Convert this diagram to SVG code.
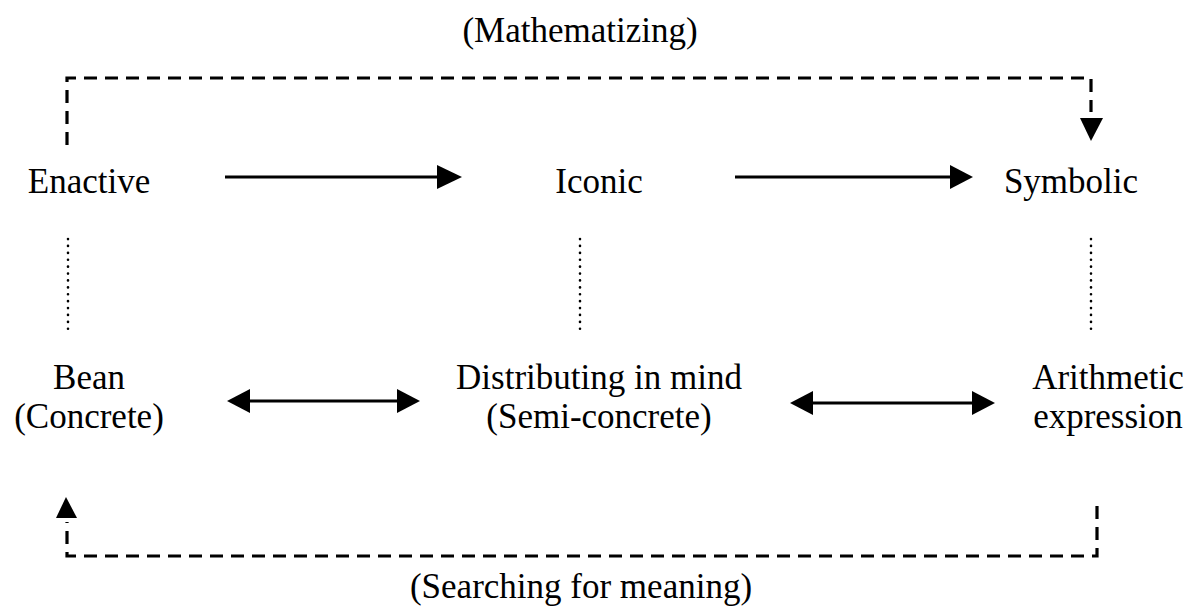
<svg xmlns="http://www.w3.org/2000/svg" width="1192" height="615" viewBox="0 0 1192 615">
<style>
text{font-family:"Liberation Serif","Times New Roman",serif;font-size:35px;fill:#000;text-anchor:middle}
.solid{stroke:#000;stroke-width:3;fill:none}
.dash{stroke:#000;stroke-width:3.2;fill:none;stroke-dasharray:13 8}
.dot{stroke:#000;stroke-width:2.6;fill:none;stroke-dasharray:0.1 6.8;stroke-linecap:round}
.head{fill:#000}
</style>
<rect width="1192" height="615" fill="#fff"/>
<g id="connectors">
  <path class="dash" d="M67,145 V78 H1091 V112"/>
  <polygon class="head" points="1080,118 1103,118 1091,141"/>
  <path class="dash" d="M1097,506 V556 H67 V522"/>
  <polygon class="head" points="56,518 77,518 66,497"/>
  <line class="solid" x1="225" y1="177" x2="440" y2="177"/>
  <polygon class="head" points="437,165 462,177 437,189"/>
  <line class="solid" x1="735" y1="177" x2="952" y2="177"/>
  <polygon class="head" points="950,165 973,177 950,189"/>
  <line class="solid" x1="245" y1="401" x2="402" y2="401"/>
  <polygon class="head" points="250,389 227,401 250,413"/>
  <polygon class="head" points="397,389 420,401 397,413"/>
  <line class="solid" x1="810" y1="403" x2="975" y2="403"/>
  <polygon class="head" points="813,391 790,403 813,415"/>
  <polygon class="head" points="972,391 995,403 972,415"/>
  <line class="dot" x1="68" y1="239" x2="68" y2="334"/>
  <line class="dot" x1="580" y1="239" x2="580" y2="334"/>
  <line class="dot" x1="1091" y1="239" x2="1091" y2="334"/>
</g>
<g id="label-mathematizing"><text x="580" y="42">(Mathematizing)</text></g>
<g id="label-searching"><text x="581" y="598">(Searching for meaning)</text></g>
<g id="node-enactive"><text x="89" y="193">Enactive</text></g>
<g id="node-iconic"><text x="599" y="193">Iconic</text></g>
<g id="node-symbolic"><text x="1071" y="193">Symbolic</text></g>
<g id="node-bean"><text x="89" y="389">Bean</text><text x="89" y="428">(Concrete)</text></g>
<g id="node-distributing"><text x="599" y="389">Distributing in mind</text><text x="599" y="428">(Semi-concrete)</text></g>
<g id="node-arithmetic"><text x="1108" y="389">Arithmetic</text><text x="1108" y="428">expression</text></g>
</svg>
